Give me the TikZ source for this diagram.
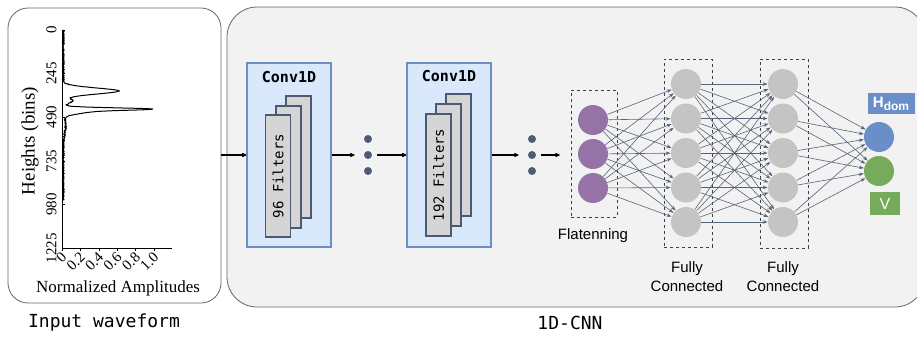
\documentclass[tikz,border=0pt]{standalone}
\usepackage{fontspec}
\setmainfont{Liberation Serif}
\setsansfont{Liberation Sans}
\setmonofont{DejaVu Sans Mono}
\usetikzlibrary{arrows.meta,positioning}

\definecolor{panelgray}{HTML}{F2F2F2}
\definecolor{convfill}{HTML}{DAE8FC}
\definecolor{convline}{HTML}{6C8EBF}
\definecolor{filterfill}{HTML}{D5D5D5}
\definecolor{filterline}{HTML}{4B5A6E}
\definecolor{dotcol}{HTML}{4E5D75}
\definecolor{flatcol}{HTML}{9673A6}
\definecolor{hidcol}{HTML}{C4C4C4}
\definecolor{hdomcol}{HTML}{6A8FC8}
\definecolor{vcol}{HTML}{76AB5B}
\definecolor{linkcol}{HTML}{56647A}

\begin{document}
\begin{tikzpicture}[x=1pt,y=-1pt,line width=0.8pt,
    panel/.style={draw=black!60, rounded corners=20pt},
    conv/.style={draw=convline, fill=convfill, line width=1.2pt, minimum width=84pt, minimum height=184pt},
    filt/.style={draw=filterline, fill=filterfill, line width=1.5pt, minimum width=25pt, minimum height=122pt,
      font=\ttfamily\fontsize{14}{16}\selectfont},
    flow/.style={line width=1.6pt, -{Latex[round,length=6pt,width=5pt]}},
    dot/.style={circle, fill=dotcol, inner sep=0pt, minimum size=8pt},
    neuron/.style={circle, inner sep=0pt, minimum size=30pt},
    layerbox/.style={draw=black!75, dashed, line width=0.6pt},
    link/.style={draw=linkcol, line width=0.6pt, -{Stealth[length=5pt,width=3.5pt]}},
    tick/.style={font=\fontsize{15}{17}\selectfont, inner sep=1pt},
    lbl/.style={font=\sffamily\fontsize{15}{19}\selectfont, align=center},
    title/.style={font=\ttfamily\fontsize{18}{20}\selectfont}]
    \useasboundingbox (0,0) rectangle (917,338);

    % the two panels
    \node[panel, fill=white, minimum width=213pt, minimum height=295pt] (wavebox) at (114.5,155.5) {};
    \node[panel, fill=panelgray, rounded corners=30pt, minimum width=698pt, minimum height=300pt] (cnnbox) at (576,157) {};
    \node[title] (wavetitle) at (104,323) {Input waveform};
    \node[title] (cnntitle) at (570,323) {1D-CNN};

    % waveform plot
    \draw[line width=0.7pt] (62,30) -- (62,248) -- (172,248);
    \foreach \k in {0,...,5} {
      \draw[line width=0.5pt] (62,{30+43.6*\k}) -- (65,{30+43.6*\k});
      \draw[line width=0.5pt] ({62+18.4*\k},248) -- ({62+18.4*\k},251);
    }
    \foreach \v [count=\k from 0] in {0,245,490,735,980,1225}
      \node[tick, rotate=90, anchor=south] at (58,{30+43.6*\k}) {\v};
    \foreach \v [count=\k from 0] in {0,0.2,0.4,0.6,0.8,1.0}
      \node[tick, rotate=45, anchor=east] at ({65+18.4*\k},254) {\v};
    \node[rotate=90, font=\fontsize{19}{21}\selectfont] (ylab) at (30,141) {Heights (bins)};
    \node[font=\fontsize{17}{19}\selectfont] (xlab) at (118,288) {Normalized Amplitudes};
    \pgfmathsetseed{7}
    \draw[line width=1pt, line join=round] plot[domain=30:200, samples=500, variable=\t]
      ({62+92*(0.014+0.011*rand+0.6*exp(-((\t-91)/4.3)^2)+0.1*exp(-((\t-101)/3)^2)
        +0.75*exp(-((\t-109)/1.6)^2)+0.3*exp(-((\t-111)/3.5)^2)+0.025*exp(-((\t-125)/12)^2))}, {\t});

    % convolution blocks
    \node[conv] (conv1) at (289,155) {};
    \node[font=\ttfamily\bfseries\fontsize{15}{17}\selectfont] (conv1t) at (289,77) {Conv1D};
    \node[filt] (f1c) at (298.5,157) {};
    \node[filt] (f1b) at (288.5,167) {};
    \node[filt] (f1a) at (278,176) {\rotatebox{90}{96 Filters}};

    \node[conv] (conv2) at (449,155) {};
    \node[font=\ttfamily\bfseries\fontsize{15}{17}\selectfont] (conv2t) at (449,76) {Conv1D};
    \node[filt] (f2c) at (458.5,155) {};
    \node[filt] (f2b) at (448.5,165) {};
    \node[filt] (f2a) at (438.5,175) {\rotatebox{90}{192 Filters}};

    \foreach \n/\x in {d1/368, d2/532} {
      \node[dot] (\n) at (\x,155) {};
      \node[dot] (\n a) at (\x,139) {};
      \node[dot] (\n b) at (\x,171) {};
    }

    % dense part
    \node[layerbox, minimum width=46pt, minimum height=127pt] (flat) at (594,153.5) {};
    \node[layerbox, minimum width=48pt, minimum height=188pt] (fc1) at (688,153) {};
    \node[layerbox, minimum width=48pt, minimum height=189pt] (fc2) at (784,153.5) {};
    \foreach \i in {1,...,3}
      \node[neuron, fill=flatcol] (f\i) at (593,{120+34*(\i-1)}) {};
    \foreach \j in {1,...,5} {
      \node[neuron, fill=hidcol] (h\j) at (686,{84+34.5*(\j-1)}) {};
      \node[neuron, fill=hidcol] (g\j) at (783,{84+34.5*(\j-1)}) {};
    }
    \node[neuron, fill=hdomcol] (o1) at (879,137) {};
    \node[neuron, fill=vcol] (o2) at (879,171) {};
    \node[fill=hdomcol, text=white, font=\sffamily\bfseries\fontsize{15}{17}\selectfont,
      minimum width=47pt, minimum height=21pt, inner sep=0pt] (hdom) at (891,103.5)
      {H\raisebox{-3pt}{\fontsize{12}{12}\selectfont dom}};
    \node[fill=vcol, text=white, font=\sffamily\fontsize{16}{18}\selectfont,
      minimum width=30pt, minimum height=23pt, inner sep=0pt] (vout) at (885,203.5) {V};

    \foreach \i in {1,...,3}
      \foreach \j in {1,...,5}
        \draw[link] (f\i) -- (h\j);
    \foreach \i in {1,...,5}
      \foreach \j in {1,...,5}
        \draw[link] (h\i) -- (g\j);
    \foreach \i in {1,...,5}
      \foreach \j in {1,2}
        \draw[link] (g\i) -- (o\j);

    \node[lbl] (flatlbl) at (593,236) {Flatenning};
    \node[lbl] (fc1lbl) at (687,277) {Fully\\Connected};
    \node[lbl] (fc2lbl) at (783,277) {Fully\\Connected};

    % data flow
    \draw[flow] (wavebox.east |- conv1.west) -- (conv1.west);
    \draw[flow, shorten >=9pt] (conv1.east) -- (d1);
    \draw[flow, shorten <=5pt] (d1) -- (conv2.west);
    \draw[flow, shorten >=9pt] (conv2.east) -- (d2);
    \draw[flow, shorten <=5pt, shorten >=11pt] (d2) -- (d2 -| flat.west);
  \end{tikzpicture}
\end{document}
